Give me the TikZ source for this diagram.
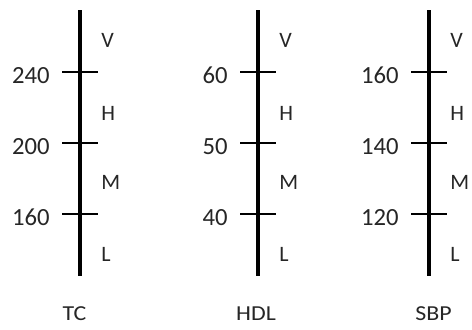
\documentclass[tikz,border=0pt]{standalone}
\usepackage{fontspec}
\usepackage{graphicx}
\setmainfont{Carlito}
\begin{document}
\begin{tikzpicture}[x=0.75pt,y=-0.75pt,
  axisline/.style={line width=3pt,black},
  tickline/.style={line width=2.2pt,black},
  txt/.style={text=black!85,inner sep=0pt},
  num/.style={txt,anchor=east,font=\fontsize{18.5}{20}\selectfont},
  band/.style={txt,anchor=west,font=\fontsize{16.5}{18}\selectfont},
  title/.style={txt,anchor=center,font=\fontsize{16}{18}\selectfont}]
\useasboundingbox (0,0) rectangle (472,329);
% each scale: id / x position / title / upper, middle and lower cut values / title x
\foreach \id/\xa/\ttl/\va/\vb/\vc/\tx in {tc/80/TC/240/200/160/74.5, hdl/258/HDL/60/50/40/256, sbp/429/SBP/160/140/120/433.5}{
  \coordinate (\id-top) at (\xa,10);
  \coordinate (\id-bot) at (\xa,276);
  \draw[axisline] (\id-top) -- (\id-bot);
  \foreach \k/\yy/\lab in {1/72/\va, 2/143/\vb, 3/214/\vc}{
    \coordinate (\id-t\k l) at (\xa-18,\yy);
    \coordinate (\id-t\k r) at (\xa+18,\yy);
    \draw[tickline] (\id-t\k l) -- (\id-t\k r);
    \node[num] (\id-n\k) at (\xa-30,\yy+3.5) {\lab};
  }
  \node[band] (\id-v) at (\xa+21,40.5) {V};
  \node[band] (\id-h) at (\xa+21,113.5) {H};
  \node[band] (\id-m) at (\xa+21,182) {M};
  \node[band] (\id-l) at (\xa+21,254) {L};
  \node[title] (\id-title) at (\tx,314) {\scalebox{1.12}[1]{\ttl}};
}
\end{tikzpicture}
\end{document}
